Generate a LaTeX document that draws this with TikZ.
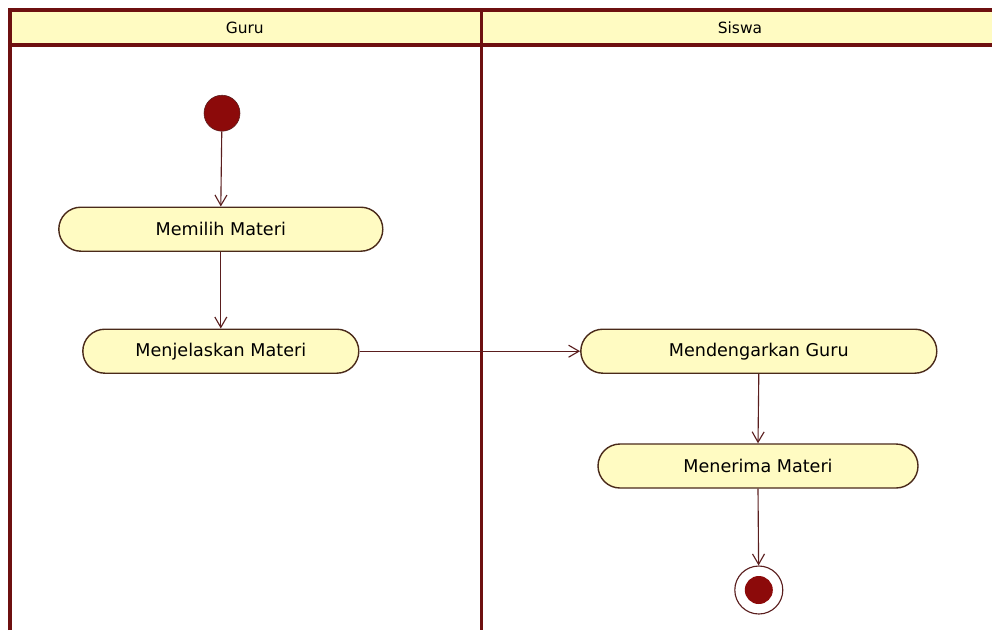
\documentclass[tikz,border=0pt]{standalone}
\usepackage{fontspec}
\setmainfont{DejaVu Sans}
\usetikzlibrary{arrows.meta,shapes.misc}
\definecolor{lanered}{HTML}{6E1010}
\definecolor{boxfill}{HTML}{FFFBC2}
\definecolor{boxline}{HTML}{4A2A1A}
\definecolor{flowred}{HTML}{5A1E1E}
\definecolor{dotred}{HTML}{8C0A0A}
\begin{document}
\begin{tikzpicture}[>={Straight Barb[length=2.6mm,width=3mm]},
  action/.style={rounded rectangle, draw=boxline, line width=1pt, fill=boxfill, minimum height=1.1cm, font=\fontsize{12.5}{14}\selectfont, inner sep=0pt},
  flow/.style={->, draw=flowred, line width=0.8pt},
  lane/.style={draw=lanered, line width=2.4pt}]
\useasboundingbox (0,0) rectangle (24.8,-15.75);
% swimlanes
\fill[boxfill] (0.25,-0.25) rectangle (24.8,-1.125);
\draw[lane] (0.25,-15.75)--(0.25,-0.25)--(24.8,-0.25);
\draw[lane] (0.25,-1.125)--(24.8,-1.125);
\draw[lane] (12.03,-0.25)--(12.03,-15.75);
\node (guru) at (6.12,-0.69){\fontsize{11}{13}\selectfont Guru};
\node (siswa) at (18.5,-0.69){\fontsize{11}{13}\selectfont Siswa};
% nodes
\node[circle, fill=dotred, draw=flowred, minimum size=0.9cm, inner sep=0pt] (start) at (5.55,-2.83){};
\node[action, minimum width=8.1cm] (memilih) at (5.52,-5.73){Memilih Materi};
\node[action, minimum width=6.9cm] (menjelaskan) at (5.52,-8.78){Menjelaskan Materi};
\node[action, minimum width=8.9cm] (mendengarkan) at (18.97,-8.78){Mendengarkan Guru};
\node[action, minimum width=8.0cm] (menerima) at (18.95,-11.65){Menerima Materi};
\node[circle, draw=flowred, line width=0.8pt, fill=white, minimum size=1.2cm, inner sep=0pt] (end) at (18.97,-14.75){};
\node[circle, fill=dotred, minimum size=0.7cm, inner sep=0pt] (endin) at (end){};
% flows
\draw[flow] (start)--(memilih.north);
\draw[flow] (memilih.south)--(menjelaskan.north);
\draw[flow] (menjelaskan.east)--(mendengarkan.west);
\draw[flow] (mendengarkan.south)--(menerima.north);
\draw[flow] (menerima.south)--(end);

\end{tikzpicture}
\end{document}
